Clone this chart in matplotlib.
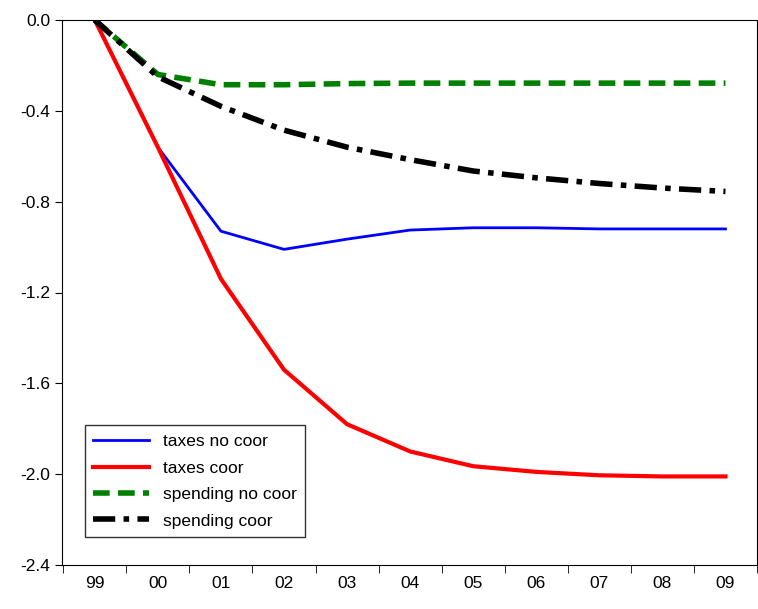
import matplotlib.pyplot as plt

years = ["99", "00", "01", "02", "03", "04", "05", "06", "07", "08", "09"]
taxes_no_coor = [0.0, -0.56, -0.93, -1.01, -0.965, -0.925, -0.915, -0.915, -0.92, -0.92, -0.92]
taxes_coor = [0.0, -0.56, -1.14, -1.54, -1.78, -1.90, -1.965, -1.99, -2.005, -2.01, -2.01]
spending_no_coor = [0.0, -0.24, -0.285, -0.285, -0.28, -0.278, -0.278, -0.278, -0.278, -0.278, -0.278]
spending_coor = [0.0, -0.25, -0.38, -0.485, -0.56, -0.615, -0.665, -0.695, -0.72, -0.74, -0.755]

plt.rcParams["font.family"] = ["Liberation Sans", "DejaVu Sans"]
fig = plt.figure(figsize=(7.58, 6.09), dpi=100)
ax = fig.add_axes([62 / 758, 1 - 565 / 609, 695 / 758, 545 / 609])
x = range(len(years))
ax.plot(x, taxes_no_coor, color="#0000ff", lw=2, label="taxes no coor")
ax.plot(x, taxes_coor, color="#ff0000", lw=3, label="taxes coor")
ax.plot(x, spending_no_coor, color="#008000", lw=4, ls=(0, (3, 1.5)), label="spending no coor")
ax.plot(x, spending_coor, color="black", lw=4, ls=(0, (4, 1.5, 1, 1.5)), label="spending coor")

ax.set_xlim(-0.52, 10.5)
ax.set_ylim(-2.4, 0.0)
ax.set_yticks([0.0, -0.4, -0.8, -1.2, -1.6, -2.0, -2.4])
ax.set_yticklabels(["0.0", "-0.4", "-0.8", "-1.2", "-1.6", "-2.0", "-2.4"], fontsize=12.5)
ax.set_xticks(list(x))
ax.set_xticklabels(years, fontsize=12.5)
ax.tick_params(axis="x", length=0, pad=8)
ax.set_xticks([i + 0.5 for i in range(-1, 11)], minor=True)
ax.tick_params(axis="x", which="minor", length=6, direction="out")
ax.tick_params(axis="y", length=5, direction="out")
leg = ax.legend(loc="lower left", bbox_to_anchor=(0.02, 0.035), fontsize=12.5,
                fancybox=False, edgecolor="black", handlelength=3.2, borderpad=0.5,
                labelspacing=0.65)
leg.get_frame().set_linewidth(1)
fig.savefig("out.png", dpi=100)
